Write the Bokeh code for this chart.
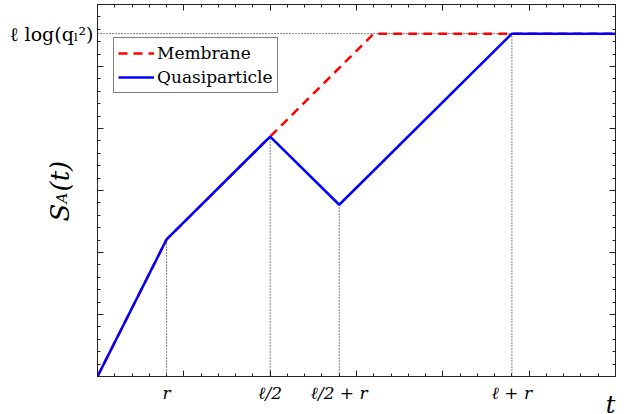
from math import pi
from bokeh.plotting import figure
from bokeh.models import (LinearAxis, FixedTicker, Range1d, Label, Legend, LegendItem)
from bokeh.embed import file_html
from bokeh.resources import INLINE

# ---- data ----
t_quasi = [0, 4, 10, 14, 24, 30]
s_quasi = [0, 2.21, 3.87, 2.77, 5.53, 5.53]
t_memb = [0, 4, 10, 16, 30]
s_memb = [0, 2.21, 3.87, 5.53, 5.53]
x_tick_pos = [4, 10, 14, 24]
x_tick_text = ["r", "ℓ/2", "ℓ/2 + r", "ℓ + r"]
s_sat = 5.53
x_major = [0, 5, 10, 15, 20, 25, 30]
x_minor = list(range(0, 31))
y_major = [0, 1, 2, 3, 4, 5, 6]
y_minor = [i / 5 for i in range(0, 31)]

SERIF = "DejaVu Serif"

p = figure(width=634, height=414, x_range=Range1d(0, 30), y_range=Range1d(0, 6),
           output_backend="svg", toolbar_location=None,
           min_border_left=97, min_border_right=19, min_border_top=4, min_border_bottom=38)
p.grid.visible = False
p.outline_line_color = "black"
p.outline_line_width = 1
p.background_fill_color = "white"
p.border_fill_color = "white"


def style_axis(ax, major, minor):
    ax.ticker = FixedTicker(ticks=major, minor_ticks=minor)
    ax.major_tick_in = 6
    ax.major_tick_out = 0
    ax.minor_tick_in = 3
    ax.minor_tick_out = 0
    ax.major_label_text_font_size = "0px"
    ax.major_label_standoff = 0
    ax.axis_line_color = "#222222"
    ax.major_tick_line_color = "#222222"
    ax.minor_tick_line_color = "#222222"


style_axis(p.xaxis[0], x_major, x_minor)
style_axis(p.yaxis[0], y_major, y_minor)
top_ax = LinearAxis()
style_axis(top_ax, x_major, x_minor)
p.add_layout(top_ax, "above")
right_ax = LinearAxis()
style_axis(right_ax, y_major, y_minor)
p.add_layout(right_ax, "right")


def label_axis(ax, ticks, texts, size, standoff):
    ax.ticker = FixedTicker(ticks=ticks)
    ax.major_label_overrides = {t: s for t, s in zip(ticks, texts)}
    ax.major_tick_in = 0
    ax.major_tick_out = 0
    ax.minor_tick_in = 0
    ax.minor_tick_out = 0
    ax.axis_line_color = None
    ax.major_tick_line_color = None
    ax.minor_tick_line_color = None
    ax.major_label_standoff = standoff
    ax.major_label_text_font = SERIF
    ax.major_label_text_font_style = "italic"
    ax.major_label_text_font_size = size
    ax.major_label_text_color = "black"


# dotted guide lines
idx = [t_quasi.index(v) for v in x_tick_pos]
p.segment(x0=x_tick_pos, y0=[0] * len(x_tick_pos), x1=x_tick_pos,
          y1=[s_quasi[i] for i in idx], line_color="black", line_width=1, line_dash="1 2")
p.segment(x0=[0], y0=[s_sat], x1=[x_tick_pos[-1]], y1=[s_sat],
          line_color="black", line_width=1, line_dash="1 2")

r_memb = p.line(t_memb, s_memb, line_color="#ff0000", line_width=2.5, line_dash="9 6")
r_quasi = p.line(t_quasi, s_quasi, line_color="#0000ff", line_width=2.5)

legend = Legend(items=[LegendItem(label="Membrane", renderers=[r_memb]),
                       LegendItem(label="Quasiparticle", renderers=[r_quasi])],
                location=(16, 283), margin=0, padding=4, spacing=2,
                label_height=22, glyph_height=22, glyph_width=36, label_standoff=3,
                label_text_font=SERIF, label_text_font_size="17px", label_text_color="black",
                border_line_color="black", border_line_width=1,
                background_fill_color="white", background_fill_alpha=1)
p.add_layout(legend, "center")

# x axis label "t" (placed in the bottom panel, positioned from the frame)
p.add_layout(Label(x=30, y=0, text="t", x_offset=0, y_offset=-28, text_align="right",
                   text_baseline="alphabetic", text_font=SERIF, text_font_style="italic",
                   text_font_size="24px", text_color="black"), "below")
# tick labels below (standoff compensates for the label stacked before it)
x_lab_ax = LinearAxis()
label_axis(x_lab_ax, x_tick_pos, x_tick_text, "17px", 7 - 29)
p.add_layout(x_lab_ax, "below")

# y axis label: S_A(t), rotated
for txt, xo, yo, fs in [("S", -38, -31, "26px"), ("A", -36, -13, "15px"), ("(t)", -38, -1, "26px")]:
    p.add_layout(Label(x=0, y=3, text=txt, x_offset=xo, y_offset=yo, angle=pi / 2,
                       text_align="left", text_baseline="alphabetic", text_font=SERIF,
                       text_font_style="italic", text_font_size=fs, text_color="black"), "left")

y_lab_ax = LinearAxis()
label_axis(y_lab_ax, [s_sat], ["ℓ log(qₗ²)"], "19px", 4 - 78)
y_lab_ax.major_label_text_font_style = "normal"
p.add_layout(y_lab_ax, "left")

open("out.html", "w").write(file_html(p, INLINE))
